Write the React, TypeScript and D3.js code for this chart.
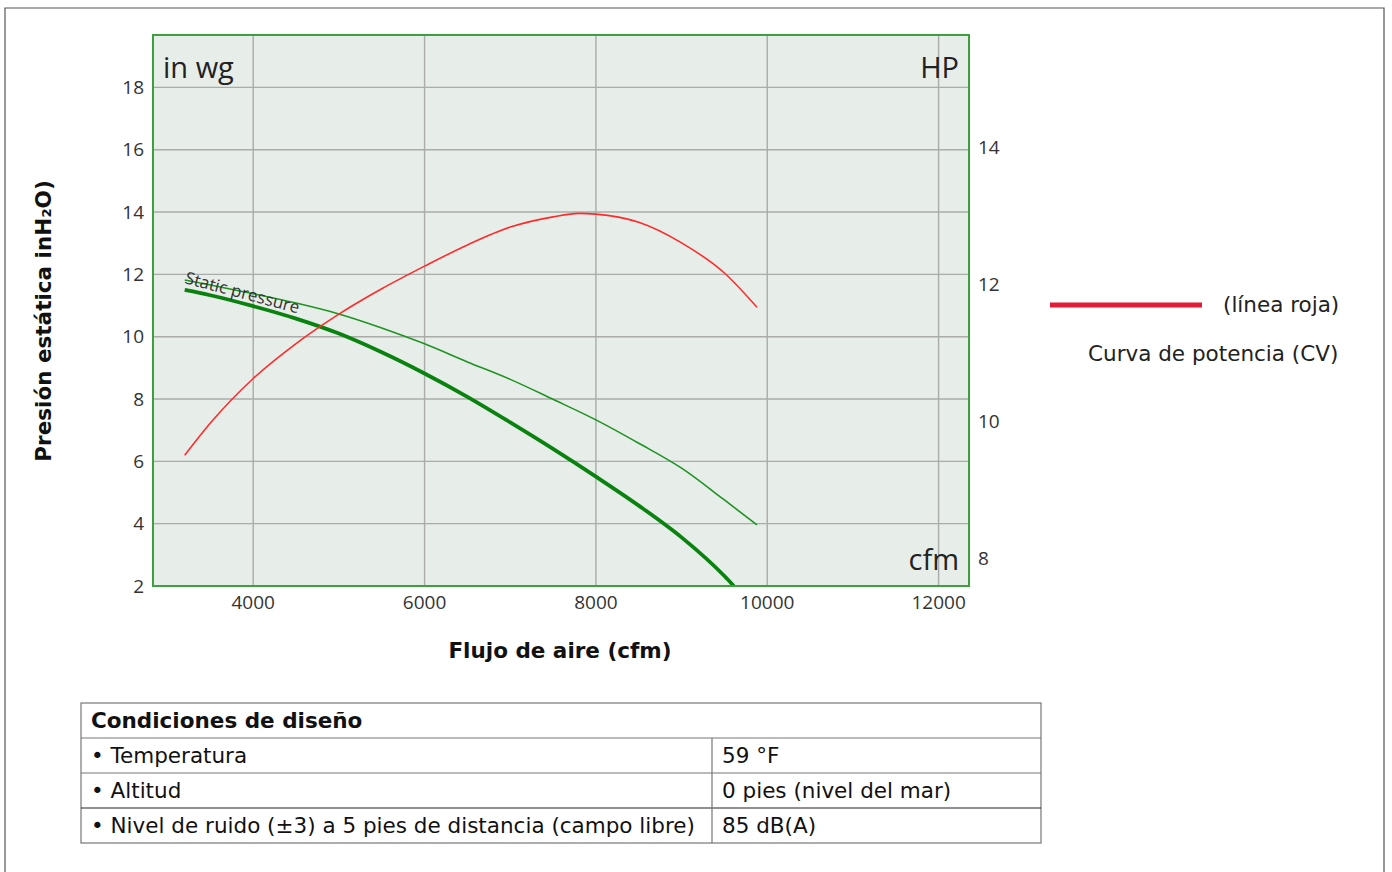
import React from 'react';
import * as d3 from 'd3';

// Curva de potencia (HP, eje derecho)
const powerCfm = [3200, 3500, 4000, 4500, 5000, 5500, 6000, 6500, 7000, 7500, 7800, 8000, 8500, 9000, 9500, 9880];
const powerHp = [9.5, 9.97, 10.62, 11.13, 11.56, 11.93, 12.26, 12.57, 12.83, 12.98, 13.03, 13.02, 12.9, 12.6, 12.16, 11.66];

// Presión estática (in wg, eje izquierdo) - curva gruesa
const staticCfm = [3200, 3500, 4000, 4500, 5000, 5500, 6000, 6500, 7000, 7500, 8000, 8500, 9000, 9500, 9610];
const staticInwg = [11.5, 11.33, 10.98, 10.58, 10.1, 9.5, 8.82, 8.07, 7.25, 6.4, 5.51, 4.58, 3.56, 2.32, 2.0];

// Presión estática - curva fina
const staticMaxCfm = [3200, 3500, 4000, 4500, 5000, 5500, 6000, 6500, 7000, 7500, 8000, 8500, 9000, 9500, 9880];
const staticMaxInwg = [11.82, 11.66, 11.38, 11.08, 10.73, 10.28, 9.77, 9.19, 8.63, 7.99, 7.33, 6.58, 5.78, 4.76, 3.96];

const xTicks = [4000, 6000, 8000, 10000, 12000];
const yLeftTicks = [2, 4, 6, 8, 10, 12, 14, 16, 18];
const yRightTicks = [8, 10, 12, 14];

const tableHeader = 'Condiciones de diseño';
const tableRows = [
  ['• Temperatura', '59 °F'],
  ['• Altitud', '0 pies (nivel del mar)'],
  ['• Nivel de ruido (±3) a 5 pies de distancia (campo libre)', '85 dB(A)'],
];

const W = 1392;
const H = 872;
const plot = { left: 153, right: 969, top: 35, bottom: 586 };

const tickFont = { fontFamily: "'Open Sans', sans-serif" };
const textFont = { fontFamily: "'DejaVu Sans', sans-serif" };
const textSize = 21.5;

const App: React.FC = () => {
  const x = d3.scaleLinear().domain([2830, 12355]).range([plot.left, plot.right]);
  const yL = d3.scaleLinear().domain([2, 19.68]).range([plot.bottom, plot.top]);
  const yR = d3.scaleLinear().domain([7.59, 15.635]).range([plot.bottom, plot.top]);

  const lineL = d3.line<[number, number]>()
    .x(d => x(d[0]))
    .y(d => yL(d[1]))
    .curve(d3.curveMonotoneX);
  const lineR = d3.line<[number, number]>()
    .x(d => x(d[0]))
    .y(d => yR(d[1]))
    .curve(d3.curveMonotoneX);

  const power = d3.zip(powerCfm, powerHp) as [number, number][];
  const stat = d3.zip(staticCfm, staticInwg) as [number, number][];
  const statMax = d3.zip(staticMaxCfm, staticMaxInwg) as [number, number][];

  const tbl = { left: 81, right: 1041, top: 703, rowH: 35, split: 712 };

  return (
    <svg width={W} height={H} style={{ position: 'absolute', left: 0, top: 0 }}>
      <rect x={0} y={0} width={W} height={H} fill="#fff" />
      {/* marco de página */}
      <path d={`M5,${H} V8 H1384 V${H}`} fill="none" stroke="#555" strokeWidth={1.2} />

      <defs>
        <clipPath id="plotClip">
          <rect x={plot.left} y={plot.top} width={plot.right - plot.left} height={plot.bottom - plot.top} />
        </clipPath>
      </defs>

      <rect x={plot.left} y={plot.top} width={plot.right - plot.left} height={plot.bottom - plot.top} fill="#e7ede9" />

      {/* rejilla */}
      {xTicks.map(t => (
        <line key={'gx' + t} x1={x(t)} x2={x(t)} y1={plot.top} y2={plot.bottom} stroke="#a9aca9" strokeWidth={1.4} />
      ))}
      {yLeftTicks.filter(t => t > 2).map(t => (
        <line key={'gy' + t} x1={plot.left} x2={plot.right} y1={yL(t)} y2={yL(t)} stroke="#a9aca9" strokeWidth={1.4} />
      ))}

      <g clipPath="url(#plotClip)">
        <path d={lineL(statMax) || ''} fill="none" stroke="#1f9322" strokeWidth={1.6} />
        <path d={lineL(stat) || ''} fill="none" stroke="#0a820f" strokeWidth={3.8} />
        <path d={lineR(power) || ''} fill="none" stroke="#ff2b2b" strokeWidth={1.6} />
      </g>

      <text x={184} y={283} transform="rotate(15 184 283)" style={tickFont} fontSize={17} fill="#333">
        Static pressure
      </text>

      <rect x={plot.left} y={plot.top} width={plot.right - plot.left} height={plot.bottom - plot.top}
        fill="none" stroke="#3e9f3e" strokeWidth={2} />

      <text x={163} y={78} style={tickFont} fontSize={29} fill="#222">in wg</text>
      <text x={959} y={78} textAnchor="end" style={tickFont} fontSize={29} fill="#222">HP</text>
      <text x={959} y={570} textAnchor="end" style={tickFont} fontSize={29} fill="#222">cfm</text>

      {/* ejes */}
      {yLeftTicks.map(t => (
        <text key={'yl' + t} x={144} y={yL(t)} dy="0.35em" textAnchor="end" style={tickFont} fontSize={19} fill="#333">{t}</text>
      ))}
      {xTicks.map(t => (
        <text key={'xl' + t} x={x(t)} y={609} textAnchor="middle" style={tickFont} fontSize={19} fill="#333">{t}</text>
      ))}
      {yRightTicks.map(t => (
        <text key={'yr' + t} x={978} y={yR(t)} dy="0.35em" style={tickFont} fontSize={19} fill="#333">{t}</text>
      ))}

      <text transform="translate(51,321) rotate(-90)" textAnchor="middle" style={textFont} fontWeight="bold" fontSize={textSize} fill="#111">
        Presión estática inH₂O)
      </text>
      <text x={560} y={658} textAnchor="middle" style={textFont} fontWeight="bold" fontSize={textSize} fill="#111">
        Flujo de aire (cfm)
      </text>

      {/* leyenda */}
      <line x1={1050} x2={1202} y1={305} y2={305} stroke="#e31a3a" strokeWidth={5} />
      <text x={1223} y={312} style={textFont} fontSize={textSize} fill="#222">(línea roja)</text>
      <text x={1088} y={361} style={textFont} fontSize={textSize} fill="#222">Curva de potencia (CV)</text>

      {/* tabla */}
      <g style={textFont} fontSize={textSize} fill="#111">
        <rect x={tbl.left} y={tbl.top} width={tbl.right - tbl.left} height={tbl.rowH * 4} fill="none" stroke="#777" strokeWidth={1.2} />
        {[1, 2, 3].map(i => (
          <line key={'tr' + i} x1={tbl.left} x2={tbl.right} y1={tbl.top + tbl.rowH * i} y2={tbl.top + tbl.rowH * i}
            stroke={i === 3 ? '#222' : '#777'} strokeWidth={1.2} />
        ))}
        <line x1={tbl.split} x2={tbl.split} y1={tbl.top + tbl.rowH} y2={tbl.top + tbl.rowH * 4} stroke="#777" strokeWidth={1.2} />
        <text x={tbl.left + 10} y={tbl.top + 25} fontWeight="bold">{tableHeader}</text>
        {tableRows.map((r, i) => (
          <g key={'row' + i}>
            <text x={tbl.left + 10} y={tbl.top + tbl.rowH * (i + 1) + 25}>{r[0]}</text>
            <text x={tbl.split + 10} y={tbl.top + tbl.rowH * (i + 1) + 25}>{r[1]}</text>
          </g>
        ))}
      </g>
    </svg>
  );
};

export default App;
